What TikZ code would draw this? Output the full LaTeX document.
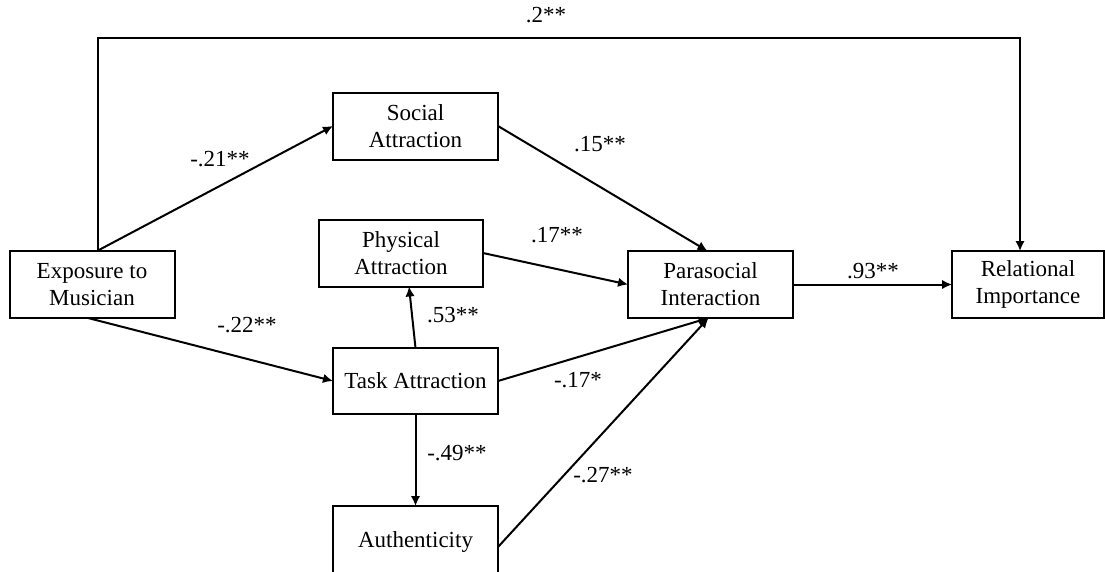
\documentclass[tikz,border=0pt]{standalone}
\usepackage{fontspec}
\setmainfont{Liberation Serif}
\usepackage{tikz}
\usetikzlibrary{arrows.meta, calc}
\xdef\LWB{2pt}
\xdef\LWA{2pt}
\begin{document}
\begin{tikzpicture}[x=1pt,y=-1pt,outer sep=0,
  varbox/.style={draw, line width=\LWB, minimum width=165pt, minimum height=67pt, align=center, inner sep=2pt, font=\rmfamily\fontsize{23}{27}\selectfont},
  coef/.style={inner sep=0, font=\rmfamily\fontsize{23}{27}\selectfont},
  arr/.style={line width=\LWA, -{Latex[length=10pt,width=9.5pt]}}]
\useasboundingbox (0,0) rectangle (1105,571);
\node[varbox] (expo) at (92,284.5) {Exposure to\\Musician};
\node[varbox] (social) at (415.5,126) {Social\\Attraction};
\node[varbox, minimum width=164pt] (phys) at (401,253) {Physical\\Attraction};
\node[varbox, minimum height=66pt] (task) at (415.5,381) {Task Attraction};
\node[varbox, minimum height=72pt] (auth) at (415.5,542) {Authenticity};
\node[varbox] (psi) at (710.5,284.5) {Parasocial\\Interaction};
\node[varbox, minimum width=152pt] (relimp) at (1028,284.5) {Relational\\Importance};
\coordinate (toprun) at (546,38);
\draw[arr] ([xshift=6pt]expo.north) |- (toprun) -| ([xshift=-8pt]relimp.north);
\draw[arr] ([xshift=5pt]expo.north) -- (social.west);
\draw[arr] ([xshift=-4pt]expo.south) -- (task.west);
\draw[arr] (social.east) -- ([xshift=-3pt]psi.north);
\draw[arr] (phys.east) -- (psi.west);
\draw[arr] (task.north) -- ([xshift=8pt]phys.south);
\draw[arr] (task.east) -- ([xshift=-2pt]psi.south);
\draw[arr] ([yshift=-5pt]auth.east) -- ([xshift=-2pt]psi.south);
\draw[arr] (task.south) -- (auth.north);
\draw[arr] (psi.east) -- (relimp.west);
\node[coef] (c-top) at (546,15) {.2**};
\node[coef] (c-es) at (220,159) {-.21**};
\node[coef] (c-sp) at (600,144) {.15**};
\node[coef] (c-pp) at (557,235) {.17**};
\node[coef] (c-tp) at (453,315) {.53**};
\node[coef] (c-et) at (247,325) {-.22**};
\node[coef] (c-pr) at (873,271) {.93**};
\node[coef] (c-tpsi) at (578,380) {-.17*};
\node[coef] (c-ta) at (457,453) {-.49**};
\node[coef] (c-ap) at (603,475) {-.27**};
\end{tikzpicture}
\end{document}
